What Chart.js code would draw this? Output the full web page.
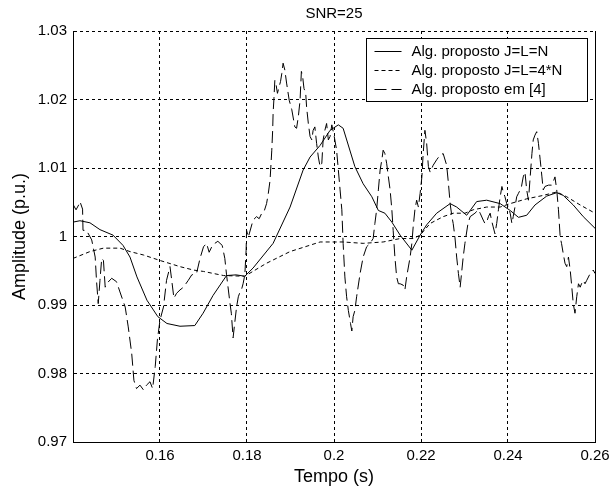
<!DOCTYPE html>
<html>
<head>
<meta charset="utf-8">
<title>SNR=25</title>
<script src="https://cdn.jsdelivr.net/npm/chart.js@4.4.1/dist/chart.umd.min.js"></script>
<style>
  html, body { margin: 0; padding: 0; background: #fff; }
  canvas { display: block; }
</style>
</head>
<body>
<canvas id="chart" width="609" height="490"></canvas>
<script>
// Alg. proposto J=L=N (solid)
const tempoJN = [0.1400,0.1416,0.1439,0.1462,0.1492,0.1515,0.1531,0.1547,0.1570,0.1595,
  0.1616,0.1646,0.1680,0.1699,0.1722,0.1753,0.1775,0.1795,0.1814,0.1860,
  0.1899,0.1929,0.1945,0.1968,0.1991,0.2010,0.2021,0.2048,0.2067,0.2087,
  0.2102,0.2117,0.2133,0.2152,0.2179,0.2198,0.2213,0.2236,0.2267,0.2282,
  0.2305,0.2328,0.2351,0.2382,0.2405,0.2424,0.2443,0.2462,0.2489,0.2512,
  0.2527,0.2550,0.2573,0.2600];
const ampJN = [1.0021,1.0023,1.0020,1.0010,1.0002,0.9987,0.9970,0.9941,0.9907,0.9883,
  0.9873,0.9869,0.9870,0.9888,0.9914,0.9943,0.9944,0.9942,0.9954,0.9990,
  1.0043,1.0097,1.0116,1.0133,1.0155,1.0163,1.0158,1.0102,1.0077,1.0058,
  1.0038,1.0034,1.0021,1.0002,0.9980,1.0002,1.0017,1.0034,1.0048,1.0043,
  1.0031,1.0051,1.0053,1.0048,1.0038,1.0028,1.0031,1.0046,1.0059,1.0064,
  1.0060,1.0046,1.0029,1.0012];

// Alg. proposto J=L=4*N (dotted)
const tempo4N = [0.1400,0.1439,0.1470,0.1508,0.1531,0.1562,0.1600,0.1646,0.1677,0.1700,
  0.1746,0.1795,0.1845,0.1899,0.1968,0.2000,0.2021,0.2067,0.2113,0.2152,
  0.2182,0.2198,0.2221,0.2251,0.2274,0.2301,0.2320,0.2351,0.2382,0.2405,
  0.2443,0.2481,0.2512,0.2535,0.2566,0.2600];
const amp4N = [0.9968,0.9978,0.9983,0.9983,0.9978,0.9973,0.9965,0.9956,0.9951,0.9949,
  0.9943,0.9942,0.9961,0.9978,0.9992,0.9992,0.9992,0.9990,0.9992,0.9997,
  0.9997,1.0002,1.0019,1.0029,1.0034,1.0034,1.0039,1.0043,1.0043,1.0048,
  1.0055,1.0060,1.0065,1.0058,1.0046,1.0034];

// Alg. proposto em [4] (dashed)
const tempoRef4 = [
  0.1400,0.1407,0.1413,0.1416,0.1422,0.1423,0.1431,0.1443,0.1451,0.1454,
  0.1458,0.1462,0.1466,0.1470,0.1474,0.1477,0.1489,0.1500,0.1508,0.1520,
  0.1527,0.1535,0.1540,0.1546,0.1554,0.1562,0.1569,0.1577,0.1583,0.1589,
  0.1594,0.1600,0.1608,0.1615,0.1623,0.1627,0.1632,0.1638,0.1646,0.1654,
  0.1665,0.1673,0.1684,0.1692,0.1700,0.1707,0.1713,0.1719,0.1726,0.1733,
  0.1743,0.1749,0.1753,0.1761,0.1764,0.1768,0.1772,0.1776,0.1780,0.1784,
  0.1788,0.1791,0.1795,0.1798,0.1799,0.1803,0.1814,0.1822,0.1828,0.1834,
  0.1839,0.1845,0.1849,0.1853,0.1857,0.1859,0.1860,0.1862,0.1864,0.1867,
  0.1870,0.1874,0.1877,0.1880,0.1883,0.1887,0.1891,0.1897,0.1903,0.1910,
  0.1914,0.1918,0.1922,0.1925,0.1928,0.1931,0.1935,0.1937,0.1941,0.1945,
  0.1949,0.1952,0.1956,0.1960,0.1964,0.1968,0.1972,0.1975,0.1979,0.1983,
  0.1987,0.1991,0.1995,0.2000,0.2006,0.2010,0.2014,0.2018,0.2021,0.2025,
  0.2029,0.2033,0.2038,0.2041,0.2044,0.2048,0.2052,0.2060,0.2067,0.2075,
  0.2083,0.2090,0.2094,0.2098,0.2102,0.2106,0.2110,0.2113,0.2117,0.2121,
  0.2125,0.2129,0.2133,0.2136,0.2140,0.2144,0.2148,0.2152,0.2159,0.2163,
  0.2167,0.2175,0.2179,0.2182,0.2186,0.2190,0.2194,0.2198,0.2202,0.2205,
  0.2209,0.2213,0.2217,0.2221,0.2228,0.2236,0.2244,0.2251,0.2259,0.2263,
  0.2267,0.2271,0.2274,0.2278,0.2282,0.2286,0.2290,0.2294,0.2297,0.2301,
  0.2308,0.2313,0.2324,0.2332,0.2336,0.2343,0.2347,0.2351,0.2355,0.2359,
  0.2362,0.2366,0.2370,0.2374,0.2378,0.2382,0.2386,0.2389,0.2393,0.2397,
  0.2401,0.2405,0.2409,0.2412,0.2416,0.2420,0.2424,0.2428,0.2431,0.2435,
  0.2439,0.2443,0.2447,0.2451,0.2455,0.2458,0.2462,0.2466,0.2470,0.2474,
  0.2478,0.2481,0.2485,0.2493,0.2500,0.2504,0.2508,0.2512,0.2516,0.2520,
  0.2523,0.2527,0.2531,0.2535,0.2539,0.2543,0.2546,0.2550,0.2554,0.2558,
  0.2562,0.2566,0.2569,0.2573,0.2577,0.2581,0.2589,0.2596,0.2600];
const ampRef4 = [
  1.0047,1.0039,1.0046,1.0051,1.0040,1.0009,1.0009,0.9995,0.9970,0.9936,
  0.9902,0.9936,0.9968,0.9965,0.9926,0.9931,0.9939,0.9934,0.9919,0.9897,
  0.9868,0.9829,0.9790,0.9778,0.9783,0.9776,0.9783,0.9788,0.9778,0.9810,
  0.9849,0.9878,0.9897,0.9936,0.9956,0.9936,0.9910,0.9917,0.9922,0.9926,
  0.9936,0.9944,0.9946,0.9968,0.9985,0.9990,0.9977,0.9985,0.9990,0.9993,
  0.9987,0.9968,0.9944,0.9902,0.9888,0.9852,0.9875,0.9897,0.9912,0.9919,
  0.9924,0.9931,0.9944,0.9980,1.0009,0.9999,1.0024,1.0029,1.0026,1.0034,
  1.0036,1.0048,1.0063,1.0082,1.0126,1.0155,1.0180,1.0202,1.0228,1.0221,
  1.0209,1.0219,1.0226,1.0238,1.0253,1.0243,1.0224,1.0199,1.0185,1.0160,
  1.0158,1.0175,1.0199,1.0241,1.0233,1.0216,1.0209,1.0189,1.0165,1.0146,
  1.0141,1.0155,1.0160,1.0136,1.0116,1.0102,1.0107,1.0141,1.0155,1.0165,
  1.0141,1.0146,1.0163,1.0148,1.0126,1.0097,1.0068,1.0039,0.9990,0.9941,
  0.9912,0.9892,0.9873,0.9862,0.9883,0.9892,0.9912,0.9946,0.9970,0.9985,
  0.9990,0.9997,1.0019,1.0039,1.0068,1.0097,1.0112,1.0126,1.0121,1.0107,
  1.0087,1.0068,1.0039,1.0009,0.9970,0.9941,0.9931,0.9931,0.9929,0.9922,
  0.9941,0.9970,0.9990,1.0014,1.0039,1.0053,1.0043,1.0063,1.0087,1.0121,
  1.0155,1.0136,1.0102,1.0094,1.0104,1.0112,1.0119,1.0121,1.0104,1.0078,
  1.0048,1.0029,1.0019,0.9999,0.9970,0.9946,0.9926,0.9951,0.9970,0.9990,
  1.0019,1.0029,1.0034,1.0039,1.0034,1.0024,1.0019,1.0021,1.0029,1.0034,
  1.0024,1.0014,1.0004,1.0019,1.0039,1.0058,1.0073,1.0065,1.0058,1.0048,
  1.0043,1.0034,1.0019,1.0029,1.0043,1.0058,1.0063,1.0068,1.0073,1.0087,
  1.0094,1.0068,1.0053,1.0087,1.0121,1.0141,1.0148,1.0153,1.0136,1.0112,
  1.0087,1.0068,1.0073,1.0075,1.0075,1.0080,1.0087,1.0068,1.0039,0.9999,
  0.9990,0.9975,0.9961,0.9956,0.9970,0.9951,0.9931,0.9902,0.9888,0.9912,
  0.9931,0.9926,0.9931,0.9936,0.9931,0.9936,0.9946,0.9951,0.9946];

const xTicks = [0.14, 0.16, 0.18, 0.20, 0.22, 0.24, 0.26];
const xTickLabels = ['', '0.16', '0.18', '0.2', '0.22', '0.24', '0.26'];
const yTicks = [0.97, 0.98, 0.99, 1.00, 1.01, 1.02, 1.03];
const yTickLabels = ['0.97', '0.98', '0.99', '1', '1.01', '1.02', '1.03'];

const seriesNames = ['Alg. proposto J=L=N', 'Alg. proposto J=L=4*N', 'Alg. proposto em [4]'];

const FONT = "'Liberation Sans', Arial, Helvetica, sans-serif";
Chart.defaults.font.family = FONT;
Chart.defaults.color = '#000';

function toPoints(xs, ys) {
  return xs.map((x, i) => ({ x: x, y: ys[i] }));
}

// right edge of the box (the top edge stays as a dotted grid line)
const rightEdge = {
  id: 'rightEdge',
  beforeDatasetsDraw(chart) {
    const { ctx, chartArea: a } = chart;
    const x = Math.round(a.right - 0.5) + 0.5;
    ctx.save();
    ctx.strokeStyle = '#000';
    ctx.lineWidth = 1;
    ctx.beginPath();
    ctx.moveTo(x, a.top);
    ctx.lineTo(x, a.bottom);
    ctx.stroke();
    ctx.restore();
  }
};

// title centred over the plot area
const plotTitle = {
  id: 'plotTitle',
  afterDraw(chart) {
    const { ctx, chartArea: a } = chart;
    ctx.save();
    ctx.font = '15px ' + FONT;
    ctx.fillStyle = '#000';
    ctx.textAlign = 'center';
    ctx.textBaseline = 'middle';
    ctx.fillText('SNR=25', (a.left + a.right) / 2, 14);
    ctx.restore();
  }
};

// boxed legend in the top right corner of the axes
const boxLegend = {
  id: 'boxLegend',
  afterDatasetsDraw(chart) {
    const { ctx, chartArea: a } = chart;
    const w = 221, h = 63;
    const x0 = Math.round(a.right - 8 - w) + 0.5;
    const y0 = Math.round(a.top + 7) + 0.5;
    ctx.save();
    ctx.fillStyle = '#fff';
    ctx.fillRect(x0, y0, w, h);
    ctx.strokeStyle = '#000';
    ctx.lineWidth = 1;
    ctx.setLineDash([]);
    ctx.strokeRect(x0, y0, w, h);
    ctx.font = '15px ' + FONT;
    ctx.fillStyle = '#000';
    ctx.textAlign = 'left';
    ctx.textBaseline = 'middle';
    chart.data.datasets.forEach((ds, i) => {
      const y = Math.round(y0 + 12.5 + i * 19) + 0.5;
      ctx.setLineDash(ds.borderDash || []);
      ctx.beginPath();
      ctx.moveTo(x0 + 8, y);
      ctx.lineTo(x0 + 35, y);
      ctx.stroke();
      ctx.setLineDash([]);
      ctx.fillText(ds.label, x0 + 45, y);
    });
    ctx.restore();
  }
};

const lineStyle = { showLine: true, pointRadius: 0, borderWidth: 1, borderColor: '#000', backgroundColor: '#000', tension: 0, fill: false };

new Chart(document.getElementById('chart'), {
  type: 'scatter',
  data: {
    datasets: [
      Object.assign({ label: seriesNames[0], data: toPoints(tempoJN, ampJN), borderDash: [] }, lineStyle),
      Object.assign({ label: seriesNames[1], data: toPoints(tempo4N, amp4N), borderDash: [4, 3] }, lineStyle),
      Object.assign({ label: seriesNames[2], data: toPoints(tempoRef4, ampRef4), borderDash: [12, 5] }, lineStyle)
    ]
  },
  options: {
    responsive: false,
    animation: false,
    devicePixelRatio: 1,
    layout: { padding: { top: 31, right: 14, bottom: 0, left: 0 } },
    plugins: {
      legend: { display: false },
      tooltip: { enabled: false },
      title: { display: false }
    },
    scales: {
      x: {
        type: 'linear',
        min: 0.14,
        max: 0.26,
        afterBuildTicks: s => { s.ticks = xTicks.map(v => ({ value: v })); },
        afterFit: s => { s.height = 48; s.paddingLeft = 0; s.paddingRight = 0; },
        grid: { color: '#000', lineWidth: 1, drawTicks: false },
        border: { display: true, color: '#000', width: 1, dash: [3, 3] },
        ticks: {
          callback: (v, i) => xTickLabels[i],
          autoSkip: false,
          maxRotation: 0,
          padding: 5,
          font: { size: 15 },
          color: '#000'
        },
        title: { display: true, text: 'Tempo (s)', font: { size: 18 }, color: '#000', padding: { top: 0, bottom: 2 } }
      },
      y: {
        type: 'linear',
        min: 0.97,
        max: 1.03,
        afterBuildTicks: s => { s.ticks = yTicks.map(v => ({ value: v })); },
        afterFit: s => { s.width = 73; s.paddingTop = 0; s.paddingBottom = 0; },
        grid: { color: '#000', lineWidth: 1, drawTicks: false },
        border: { display: true, color: '#000', width: 1, dash: [3, 3] },
        ticks: {
          callback: (v, i) => yTickLabels[i],
          autoSkip: false,
          padding: 6,
          font: { size: 15 },
          color: '#000'
        },
        title: { display: true, text: 'Amplitude (p.u.)', font: { size: 18 }, color: '#000', padding: { top: 9, bottom: 0 } }
      }
    }
  },
  plugins: [rightEdge, boxLegend, plotTitle]
});
</script>
</body>
</html>
